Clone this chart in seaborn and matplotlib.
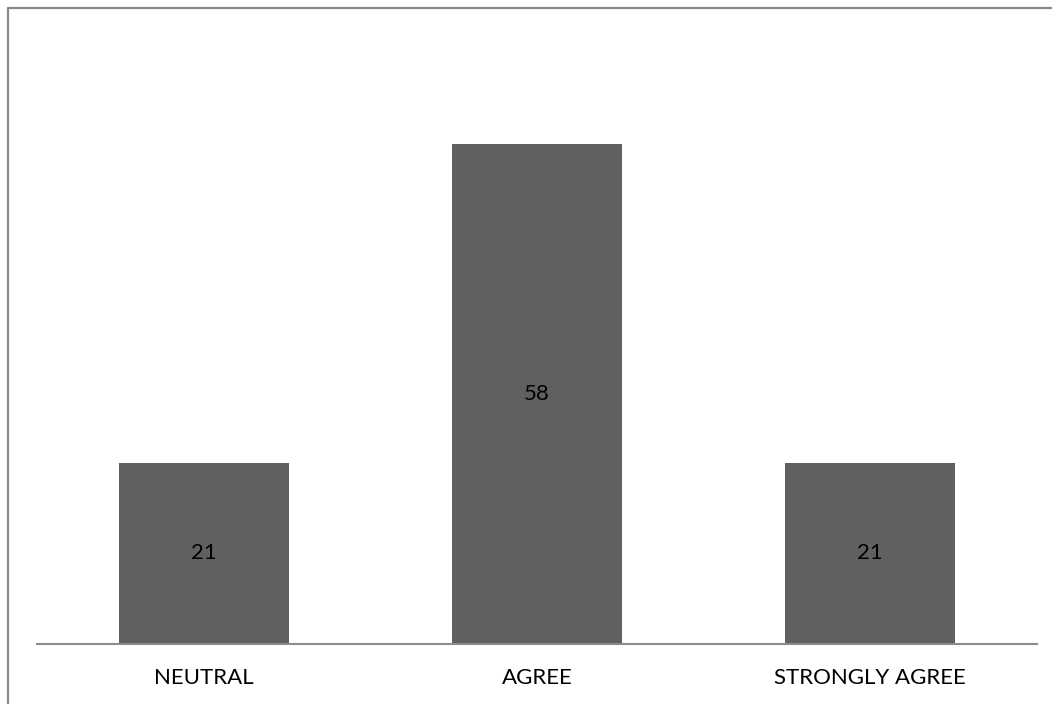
import pandas as pd
import seaborn as sns
import matplotlib.pyplot as plt
from matplotlib.lines import Line2D

# data
categories = ['NEUTRAL', 'AGREE', 'STRONGLY AGREE']
values = [21, 58, 21]

df = pd.DataFrame({'response': categories, 'count': values})

sns.set_style('white')
plt.rcParams['font.family'] = ['Lato', 'DejaVu Sans']

fig = plt.figure(figsize=(10.52, 7.04), dpi=100)
ax = fig.add_axes([0.0352, 0.0852, 0.9505, 0.858])

sns.barplot(data=df, x='response', y='count', color='#606060', width=0.51,
            saturation=1, edgecolor='none', ax=ax)

ax.set_ylim(0, 70)
ax.set_xlim(-0.5, 2.5)
ax.set_xlabel('')
ax.set_ylabel('')
ax.set_yticks([])
for s in ['top', 'right', 'left']:
    ax.spines[s].set_visible(False)
ax.spines['bottom'].set_color('#8c8c8c')
ax.spines['bottom'].set_linewidth(1.5)
ax.tick_params(axis='x', length=0, labelsize=16, pad=17, colors='black')

ax.bar_label(ax.containers[0], label_type='center', fontsize=16, color='black')

# outer chart border (left and top only visible)
fig.add_artist(Line2D([7.5 / 1052, 7.5 / 1052], [0, 1 - 7.5 / 704],
                      transform=fig.transFigure, color='#8a8a8a', lw=1.6))
fig.add_artist(Line2D([7.5 / 1052, 1], [1 - 7.5 / 704, 1 - 7.5 / 704],
                      transform=fig.transFigure, color='#8a8a8a', lw=1.6))

fig.savefig('out.png', dpi=100)
